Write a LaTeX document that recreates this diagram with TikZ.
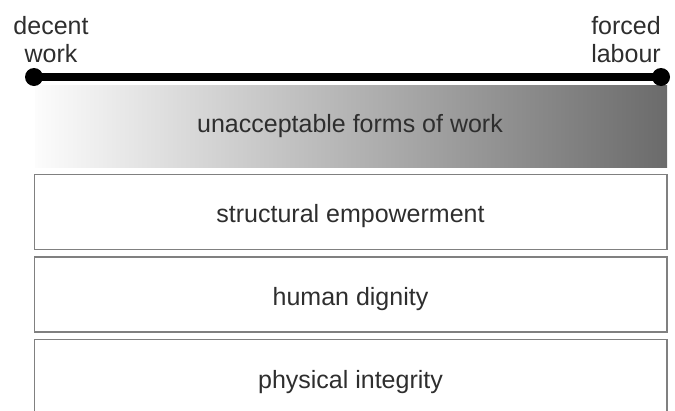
\documentclass[tikz,border=0pt]{standalone}
\usepackage{fontspec}
\setmainfont{Liberation Sans}
\definecolor{txt}{HTML}{2E2E2E}
\definecolor{boxline}{HTML}{808080}
\definecolor{darkend}{HTML}{6B6B6B}
\definecolor{lightend}{HTML}{FCFCFC}
\begin{document}
\begin{tikzpicture}[x=1pt,y=-1pt,
  lbl/.style={font=\fontsize{25}{28}\selectfont, text=txt, inner sep=0pt},
  layerbox/.style={draw=boxline, line width=1.5pt, minimum width=632.5pt, inner sep=0pt, lbl, text height=21pt, text depth=0pt},
  enddot/.style={circle, fill=black, minimum size=18pt, inner sep=0pt}]
\useasboundingbox (0,0) rectangle (675,410);
\begin{scope}
\clip (0,0) rectangle (675,410);
% gradient band
\shade[left color=lightend, right color=darkend] (35,85) rectangle (667,167);
\node[lbl] (uafw) at (350,126) {unacceptable forms of work};
% layer boxes
\node[layerbox, minimum height=75pt] (se) at (350.5,212) {structural empowerment};
\node[layerbox, minimum height=75pt] (hd) at (350.5,294.5) {human dignity};
\node[layerbox, minimum height=76pt] (pi) at (350.5,377.5) {physical integrity};
\end{scope}
% scale line
\node[enddot] (dl) at (34,77) {};
\node[enddot] (dr) at (661,77) {};
\draw[line width=8.5pt] (dl.center) -- (dr.center);
% end labels
\node[lbl, anchor=base] (dec1) at (51,34.5) {decent};
\node[lbl, anchor=base] (dec2) at (51,62.5) {work};
\node[lbl, anchor=base] (for1) at (626,34.5) {forced};
\node[lbl, anchor=base] (for2) at (626,62.5) {labour};
\end{tikzpicture}
\end{document}
